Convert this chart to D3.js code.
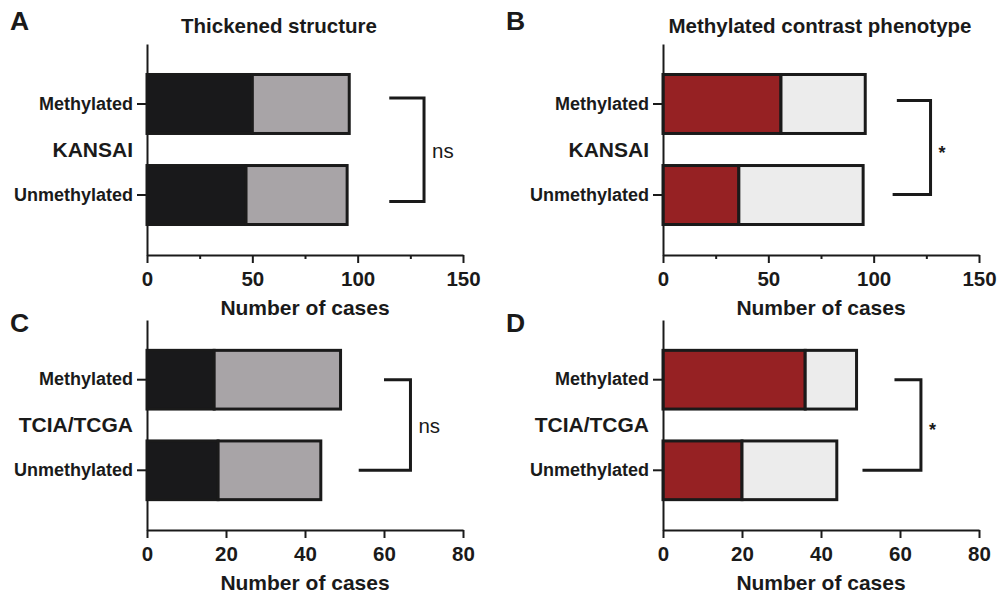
<!DOCTYPE html>
<html>
<head>
<meta charset="utf-8">
<script src="https://cdn.jsdelivr.net/npm/d3@7"></script>
<style>
  body { margin: 0; background: #fff; }
  svg { display: block; font-family: "Liberation Sans", Arial, Helvetica, sans-serif; }
</style>
</head>
<body>
<script>
// categories and counts
var categories = ["Methylated", "Unmethylated"];
var cohorts = ["KANSAI", "TCIA/TCGA"];
var titles = ["Thickened structure", "Methylated contrast phenotype"];

var kansaiThickYes = [50, 47], kansaiThickNo = [46, 48];
var kansaiMcpYes = [56, 36],   kansaiMcpNo = [40, 59];
var tcgaThickYes = [17, 18],   tcgaThickNo = [32, 26];
var tcgaMcpYes = [36, 20],     tcgaMcpNo = [13, 24];

var kansaiTicks = [0, 50, 100, 150], kansaiMinor = [25, 75, 125];
var tcgaTicks = [0, 20, 40, 60, 80];
var signif = ["ns", "*", "ns", "*"];

var width = 997, height = 595;
var plotW = 316;
var ink = "#1a1a1a";

var svg = d3.select("body").append("svg")
  .attr("width", width)
  .attr("height", height);

var panels = [
  {letter: "A", lx: 10, ly: 30, title: titles[0], tx: 279, cohort: cohorts[0],
   yes: kansaiThickYes, no: kansaiThickNo, fill: ["#19191b", "#a8a4a7"],
   max: 150, ticks: kansaiTicks, minor: kansaiMinor, left: 147, top: 44, bottom: 255,
   bracket: [115, 131.5, 115], bOff: [-6, 6.5], sig: signif[0]},
  {letter: "B", lx: 506, ly: 30, title: titles[1], tx: 820, cohort: cohorts[0],
   yes: kansaiMcpYes, no: kansaiMcpNo, fill: ["#962123", "#ececec"],
   max: 150, ticks: kansaiTicks, minor: kansaiMinor, left: 663, top: 44, bottom: 255,
   bracket: [111, 127, 109], bOff: [-3.5, -0.5], sig: signif[1]},
  {letter: "C", lx: 10, ly: 332, title: null, cohort: cohorts[1],
   yes: tcgaThickYes, no: tcgaThickNo, fill: ["#19191b", "#a8a4a7"],
   max: 80, ticks: tcgaTicks, minor: [], left: 147, top: 320, bottom: 530,
   bracket: [60, 66.7, 53.6], bOff: [0, 0], sig: signif[2]},
  {letter: "D", lx: 506, ly: 332, title: null, cohort: cohorts[1],
   yes: tcgaMcpYes, no: tcgaMcpNo, fill: ["#962123", "#ececec"],
   max: 80, ticks: tcgaTicks, minor: [], left: 663, top: 320, bottom: 530,
   bracket: [58.6, 65.3, 50.5], bOff: [0, 0], sig: signif[3]}
];

panels.forEach(function (p) {
  var x = d3.scaleLinear().domain([0, p.max]).range([p.left, p.left + plotW]);
  var y = d3.scaleBand().domain(categories).range([p.top, p.bottom])
    .paddingInner(0.352).paddingOuter(0.335);

  var rows = categories.map(function (c, i) {
    return {cat: c, yes: p.yes[i], no: p.no[i]};
  });
  var series = d3.stack().keys(["yes", "no"])(rows);

  // panel letter and title
  svg.append("text")
    .attr("x", p.lx).attr("y", p.ly)
    .style("font-size", "26.5px").style("font-weight", "bold")
    .attr("fill", ink).text(p.letter);
  if (p.title) {
    svg.append("text")
      .attr("x", p.tx).attr("y", 33)
      .attr("text-anchor", "middle")
      .style("font-size", "20.5px").style("font-weight", "bold")
      .attr("fill", ink).text(p.title);
  }

  // bars
  var g = svg.append("g");
  g.selectAll("g.seg")
    .data(series)
    .enter().append("g")
    .attr("fill", function (d, i) { return p.fill[i]; })
    .selectAll("rect")
    .data(function (d) { return d; })
    .enter().append("rect")
    .attr("x", function (d) { return x(d[0]); })
    .attr("y", function (d) { return y(d.data.cat); })
    .attr("width", function (d) { return x(d[1]) - x(d[0]); })
    .attr("height", y.bandwidth())
    .attr("stroke", ink)
    .attr("stroke-width", 3);

  // x axis with minor ticks
  var xa = svg.append("g")
    .attr("transform", "translate(0," + p.bottom + ")")
    .call(d3.axisBottom(x).tickValues(p.ticks).tickSize(8).tickSizeOuter(0).tickPadding(8.5));
  if (p.minor.length) {
    svg.append("g")
      .attr("transform", "translate(0," + p.bottom + ")")
      .call(d3.axisBottom(x).tickValues(p.minor).tickSize(4).tickFormat(""))
      .select(".domain").remove();
  }
  xa.selectAll("text")
    .style("font-size", "20.5px").style("font-weight", "bold").attr("fill", ink);

  svg.append("text")
    .attr("x", p.left + plotW / 2).attr("y", p.bottom + 60)
    .attr("text-anchor", "middle")
    .style("font-size", "21px").style("font-weight", "bold")
    .attr("fill", ink).text("Number of cases");

  // y axis
  var ya = svg.append("g")
    .attr("transform", "translate(" + p.left + ",0)")
    .call(d3.axisLeft(y).tickSize(10).tickSizeOuter(0).tickPadding(4));
  ya.selectAll("text")
    .style("font-size", "18px").style("font-weight", "bold").attr("fill", ink);

  svg.selectAll(".domain, .tick line")
    .attr("stroke", ink).attr("stroke-width", 2);

  var mid = (y(categories[0]) + y(categories[1]) + y.bandwidth()) / 2;
  svg.append("text")
    .attr("x", p.left - 14).attr("y", mid + 7)
    .attr("text-anchor", "end")
    .style("font-size", "21px").style("font-weight", "bold")
    .attr("fill", ink).text(p.cohort);

  // significance bracket
  var yt = y(categories[0]) + y.bandwidth() / 2 + p.bOff[0];
  var yb = y(categories[1]) + y.bandwidth() / 2 + p.bOff[1];
  var path = d3.path();
  path.moveTo(x(p.bracket[0]), yt);
  path.lineTo(x(p.bracket[1]), yt);
  path.lineTo(x(p.bracket[1]), yb);
  path.lineTo(x(p.bracket[2]), yb);
  svg.append("path")
    .attr("d", path.toString())
    .attr("fill", "none")
    .attr("stroke", ink)
    .attr("stroke-width", 3);

  var isStar = p.sig === "*";
  svg.append("text")
    .attr("x", x(p.bracket[1]) + 8)
    .attr("y", (yt + yb) / 2 + (isStar ? 11 : 8))
    .style("font-size", isStar ? "18px" : "20.5px")
    .style("font-weight", isStar ? "bold" : "normal")
    .attr("fill", ink).text(p.sig);
});
</script>
</body>
</html>
